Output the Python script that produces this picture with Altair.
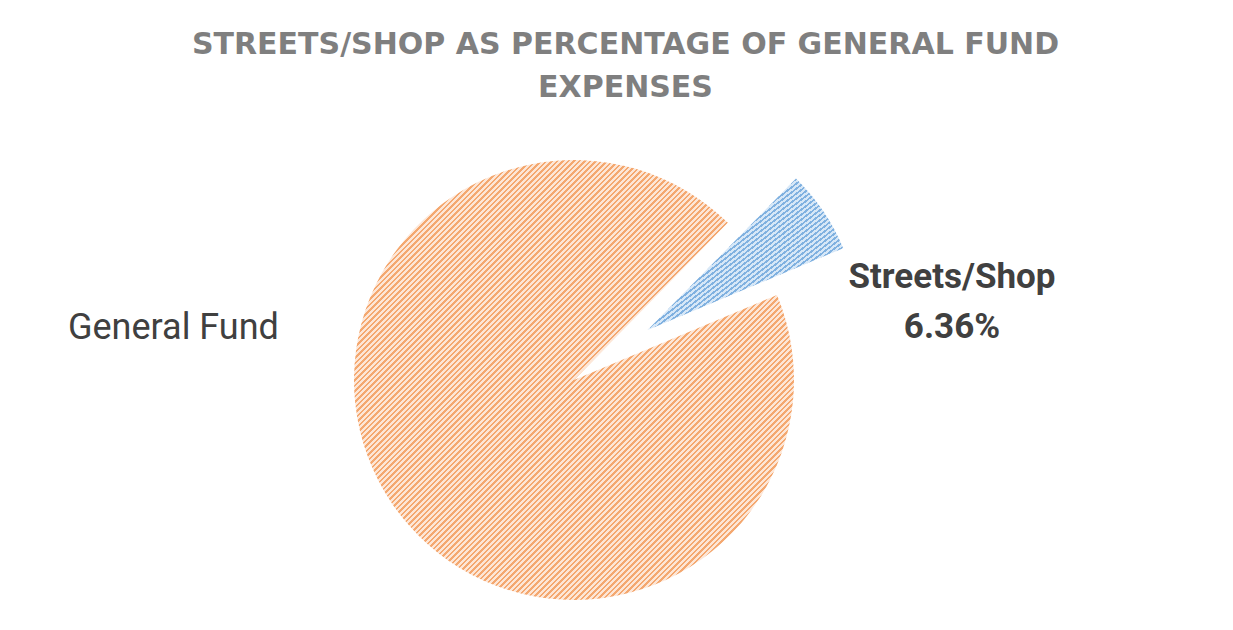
import math
import altair as alt
import pandas as pd

# ---- data ----
categories = ["Streets/Shop", "General Fund"]
shares = [6.36, 93.64]          # percent of General Fund expenses
slice_order = [0, 1]

title_lines = ["STREETS/SHOP AS PERCENTAGE OF GENERAL FUND", "EXPENSES"]

# ---- layout / style ----
W, H = 1217, 514
PAD_TOP = 100
CX, CY = 566, 272               # pie centre in view coordinates
R_MAIN, R_EXPL = 220, 212
START_DEG = 44.4                # angle (clockwise from 12 o'clock) where the first slice starts
EXPLODE = 89                    # explosion distance of the Streets/Shop slice

df = pd.DataFrame({"category": categories, "share": shares, "ord": slice_order})
a0 = math.radians(START_DEG)

# mid angle of the exploded slice, from the data
mid = a0 + (shares[0] / sum(shares)) * math.pi
ex_dx = EXPLODE * math.sin(mid)
ex_dy = -EXPLODE * math.cos(mid)


def stripes(dark, light, n, frac=0.45):
    stops = []
    for i in range(n):
        a = i / n
        b = (i + frac) / n
        c = (i + 1) / n
        stops += [
            alt.GradientStop(color=dark, offset=round(a, 6)),
            alt.GradientStop(color=dark, offset=round(b, 6)),
            alt.GradientStop(color=light, offset=round(b, 6)),
            alt.GradientStop(color=light, offset=round(min(c, 1.0), 6)),
        ]
    return alt.LinearGradient(gradient="linear", stops=stops, x1=0, y1=0, x2=1, y2=1)


orange_fill = stripes("#F4A870", "#FDE6D6", 160, 0.4)
blue_fill = stripes("#80B1E0", "#D6E7F7", 61, 0.45)

theta = alt.Theta("share:Q", stack=True,
                  scale=alt.Scale(range=[a0, a0 + 2 * math.pi]))
order = alt.Order("ord:Q")

base = alt.Chart(df)

main_arc = base.mark_arc(radius=R_MAIN, fill=orange_fill, strokeWidth=0).encode(
    theta=theta,
    order=order,
    x=alt.value(CX),
    y=alt.value(CY),
    opacity=alt.condition(alt.datum.category == "General Fund", alt.value(1), alt.value(0)),
)

expl_arc = base.mark_arc(radius=R_EXPL, fill=blue_fill, strokeWidth=0).encode(
    theta=theta,
    order=order,
    x=alt.value(CX + ex_dx),
    y=alt.value(CY + ex_dy),
    opacity=alt.condition(alt.datum.category == "Streets/Shop", alt.value(1), alt.value(0)),
)

lab_df = pd.DataFrame({
    "category": categories,
    "share": shares,
})

streets_label = alt.Chart(lab_df).transform_filter(
    alt.datum.category == "Streets/Shop"
).transform_calculate(
    label=alt.datum.category + "\n" + alt.expr.format(alt.datum.share / 100, ".2%")
).mark_text(
    font="Roboto", fontSize=35, fontWeight="bold", color="#404040",
    align="center", baseline="alphabetic", lineBreak="\n", lineHeight=50,
).encode(
    text="label:N",
    x=alt.value(944),
    y=alt.value(180),
)

general_label = alt.Chart(lab_df).transform_filter(
    alt.datum.category == "General Fund"
).mark_text(
    font="Roboto", fontSize=36, fontWeight="normal", color="#404040",
    align="left", baseline="alphabetic",
).encode(
    text="category:N",
    x=alt.value(60),
    y=alt.value(231),
)

chart = alt.layer(main_arc, expl_arc, streets_label, general_label).properties(
    width=W,
    height=H,
    autosize=alt.AutoSizeParams(type="none"),
    padding={"left": 0, "top": PAD_TOP, "right": 0, "bottom": 0},
    background="white",
    title=alt.TitleParams(
        text=title_lines,
        font="DejaVu Sans",
        fontSize=30,
        fontWeight="bold",
        color="#7F7F7F",
        lineHeight=43,
        anchor="middle",
        baseline="bottom",
        offset=-25,
        dx=9,
    ),
).configure_view(stroke=None)

chart.save("out.html", embed_options={"renderer": "svg", "actions": False})
